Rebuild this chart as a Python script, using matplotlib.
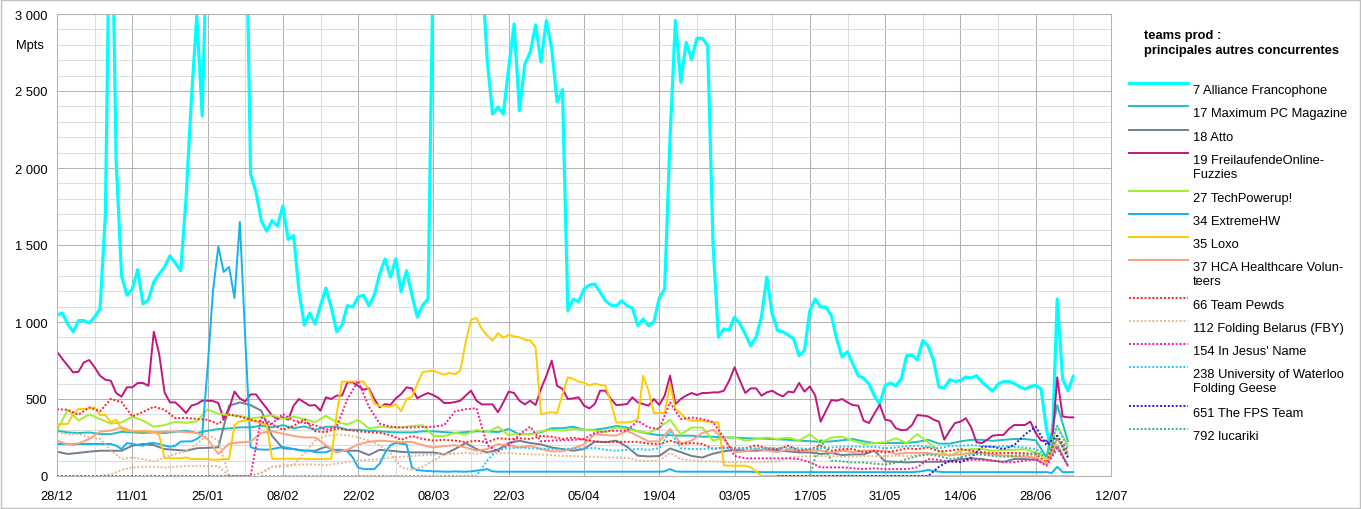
import numpy as np
import pandas as pd
import matplotlib
matplotlib.use("Agg")
import matplotlib.pyplot as plt
from matplotlib.lines import Line2D
from matplotlib.patches import Rectangle
from matplotlib.ticker import FixedLocator, FuncFormatter, MultipleLocator
import matplotlib.dates as mdates

plt.rcParams['font.family'] = ['Liberation Sans', 'DejaVu Sans']
plt.rcParams['font.size'] = 9.3

# daily points, 28/12 -> 05/07
days = pd.date_range('2020-12-28', periods=190, freq='D')
# every second day (0, 2, ..., 188)
days2 = days[::2]
nan = np.nan

# --- daily series ---
alliance = [1045, 1058, 987, 937, 1009, 1009, 994, 1032, 1085, 1700,
            4200, 2050, 1300, 1175, 1214, 1340, 1117, 1145, 1260, 1312,
            1357, 1429, 1383, 1333, 1800, 2450, 2990, 2340, 3660, 4300,
            4800, 5200, 4900, 4500, 4200, 4040, 1960, 1844, 1658, 1590,
            1658, 1623, 1753, 1535, 1561, 1200, 980, 1058, 987, 1106,
            1220, 1097, 937, 981, 1106, 1097, 1162, 1175, 1106, 1175,
            1312, 1409, 1292, 1409, 1197, 1333, 1175, 1032, 1110, 1149,
            3460, 4200, 4800, 5300, 5600, 5200, 4700, 4300, 3900, 3300,
            2700, 2350, 2396, 2351, 2650, 2935, 2372, 2675, 2752, 2929,
            2688, 2957, 2773, 2429, 2509, 1074, 1149, 1132, 1214, 1240,
            1247, 1194, 1138, 1110, 1104, 1138, 1106, 1091, 976, 1020,
            976, 1002, 1156, 1214, 2200, 2957, 2557, 2815, 2705, 2842,
            2842, 2795, 1500, 903, 955, 948, 1032, 987, 922, 846,
            903, 1032, 1292, 1052, 944, 937, 916, 890, 781, 814,
            1074, 1149, 1097, 1097, 1041, 890, 773, 807, 727, 651,
            636, 597, 521, 467, 586, 604, 586, 630, 781, 786,
            755, 879, 846, 749, 580, 571, 625, 615, 619, 643,
            636, 651, 610, 580, 552, 597, 613, 615, 601, 580,
            565, 580, 589, 565, 305, 143, 1149, 630, 554, 649]

freilaufende = [807, 760, 716, 673, 677, 738, 753, 706, 651, 625,
                619, 539, 515, 576, 576, 604, 604, 586, 937, 792,
                543, 478, 478, 446, 409, 457, 467, 489, 489, 487,
                474, 370, 435, 548, 504, 483, 530, 530, 483, 439,
                392, 370, 381, 366, 457, 500, 478, 457, 461, 424,
                511, 500, 522, 522, 608, 608, 585, 560, 570, 500,
                446, 467, 461, 504, 532, 576, 569, 505, 524, 539,
                525, 505, 474, 474, 480, 489, 522, 554, 489, 465,
                465, 465, 414, 478, 548, 539, 489, 465, 489, 461,
                565, 651, 749, 586, 565, 500, 504, 511, 457, 439,
                467, 554, 554, 500, 461, 463, 467, 511, 478, 467,
                457, 500, 461, 522, 651, 467, 500, 522, 539, 526,
                539, 539, 543, 543, 554, 619, 706, 619, 539, 569,
                569, 522, 543, 554, 532, 517, 548, 543, 604, 548,
                582, 522, 353, 424, 493, 489, 500, 478, 460, 457,
                359, 344, 405, 464, 366, 359, 310, 298, 300, 331,
                396, 392, 387, 366, 353, 236, 294, 344, 353, 375,
                316, 219, 214, 236, 262, 266, 266, 305, 331, 331,
                331, 353, 279, 229, 229, 186, 641, 387, 381, 381]

extremehw = ([208, 208, 208, 205, 208, 208, 208, 208, 208, 208,
              208, 197, 175, 214, 208, 202, 197, 212, 214, 208,
              197, 190, 197, 223, 225, 225, 240, 266, 700, 1200,
              1490, 1325, 1357, 1156, 1650, 900, 188, 175, 172, 170,
              175, 182, 188, 182, 175, 168, 165, 165, 154, 154,
              154, 168, 170, 170, 160, 120, 55, 45, 45, 45,
              80, 150, 200, 215, 210, 205, 55, 38, 35, 32,
              30, 30, 28, 28, 30, 28, 28, 30, 35, 38,
              45, 30] + [28] * 31 + [30, 45, 30] + [28] * 14
             + [25] * 30 + [28, 32, 40, 32, 28] + [25] * 20
             + [20, 60, 25, 25, 25])

loxo = ([338, 338, 338, 403, 435, 435, 440, 446, 396, 396,
         348, 366, 305, 294, 290, 290, 290, 290, 285, 265,
         115, 115, 115, 115, 121, 110, 110, 110, 110, 106,
         106, 110, 110, 330, 355, 360, 360, 355, 345, 330,
         112, 112, 112, 112, 112, 112, 112, 110, 110, 110,
         112, 112, 400, 613, 613, 613, 613, 613, 560, 470,
         455, 452, 450, 465, 420, 500, 515, 600, 675, 680,
         684, 670, 658, 670, 660, 684, 870, 1015, 1025, 955,
         912, 879, 927, 898, 916, 907, 900, 885, 879, 836,
         403, 409, 414, 409, 530, 641, 630, 613, 605, 588,
         600, 591, 586, 478, 348, 348, 348, 353, 370, 651,
         554, 409, 409, 409, 597, 435, 407, 370, 359, 359,
         359, 353, 350, 348, 70, 67, 67, 67, 67, 56,
         30] + [0] * 59)

# --- series read every second day ---
maxpc = [294, 283, 279, 283, 272, 272, 287, 283, 279, 283,
         279, 287, 294, 279, 294, 305, 309, 316, 316, 327,
         316, 330, 310, 322, 300, 320, 320, 300, 300, 294,
         290, 285, 283, 283, 290, 290, 285, 280, 285, 290,
         290, 285, 305, 270, 272, 285, 310, 310, 320, 300,
         300, 310, 325, 315, 290, 275, 265, 265, 262, 262,
         255, 255, 250, 250, 245, 244, 242, 238, 235, 229,
         226, 222, 225, 232, 240, 225, 214, 214, 214, 214,
         222, 235, 210, 210, 225, 235, 235, 228, 235, 240,
         240, 232, 121, 461, 225]

atto = [158, 143, 150, 158, 164, 164, 164, 197, 208, 200,
        175, 170, 164, 180, 183, 186, 456, 478, 460, 424,
        260, 180, 175, 164, 164, 190, 164, 164, 164, 136,
        170, 164, 157, 153, 153, 153, 140, 175, 214, 175,
        153, 170, 214, 229, 214, 205, 185, 175, 164, 175,
        223, 220, 229, 190, 132, 127, 130, 179, 155, 130,
        120, 145, 160, 170, 164, 164, 168, 168, 160, 153,
        153, 143, 149, 136, 140, 140, 164, 95, 92, 88,
        92, 92, 92, 95, 110, 115, 110, 99, 92, 110,
        110, 105, 77, 200, 66]

techpowerup = [294, 430, 360, 400, 370, 340, 348, 385, 360, 320,
               330, 352, 345, 355, 432, 405, 395, 390, 375, 382,
               395, 370, 385, 370, 350, 390, 350, 335, 365, 310,
               320, 315, 315, 325, 330, 261, 258, 280, 270, 300,
               285, 320, 265, 275, 270, 290, 300, 295, 305, 300,
               295, 285, 315, 305, 290, 280, 315, 366, 270, 315,
               315, 229, 250, 250, 230, 240, 250, 240, 250, 230,
               270, 218, 250, 255, 230, 208, 214, 220, 245, 214,
               272, 218, 164, 131, 164, 175, 175, 164, 170, 170,
               175, 153, 110, 326, 196]

hca = [229, 205, 212, 240, 288, 295, 316, 290, 290, 285,
       288, 290, 285, 280, 240, 143, 210, 218, 223, 280,
       290, 275, 260, 250, 250, 200, 153, 170, 205, 222,
       229, 225, 220, 222, 200, 185, 195, 200, 185, 164,
       175, 207, 200, 185, 196, 175, 160, 160, 180, 205,
       272, 265, 262, 294, 260, 225, 225, 305, 210, 230,
       280, 300, 240, 155, 160, 175, 165, 155, 175, 165,
       165, 165, 150, 165, 155, 165, 165, 165, 143, 150,
       150, 149, 140, 135, 140, 150, 150, 140, 135, 125,
       125, 120, 77, 240, 140]

pewds = [434, 430, 398, 445, 420, 500, 480, 387, 415, 450,
         430, 375, 378, 370, 365, 337, 400, 385, 365, 352,
         335, 300, 325, 370, 290, 285, 309, 300, 290, 285,
         280, 266, 235, 260, 240, 230, 235, 230, 220, 230,
         220, 245, 240, 245, 240, 260, 255, 240, 250, 235,
         225, 220, 222, 222, 222, 210, 208, 229, 208, 214,
         208, 175, 186, 180, 180, 200, 180, 175, 197, 164,
         175, 197, 164, 175, 175, 153, 164, 153, 164, 180,
         175, 185, 160, 164, 175, 164, 155, 149, 150, 149,
         148, 142, 88, 261, 164]

belarus = [283, 270, 273, 251, 240, 170, 110, 120, 110, 95,
           120, 143, 160, 208, 270, 229, 0, 0, 0, 20,
           60, 60, 70, 150, 230, 260, 270, 265, 250, 230,
           200, 150, 55, 40, 60, 100, 140, 145, 150, 145,
           150, 145, 150, 145, 140, 140, 135, 130, 130, 125,
           125, 120, 120, 118, 100, 98, 100, 150, 110, 100,
           95, 95, 92, 90, 90, 92, 92, 95, 120, 125,
           130, 130, 128, 125, 125, 130, 128, 130, 132, 130,
           135, 140, 145, 140, 150, 145, 140, 135, 130, 140,
           135, 130, 80, 200, 120]

# second tan dotted trace seen low in the plot (no legend entry)
belarus_low = ([0] * 5 + [10, 40, 55, 60, 60, 55, 60, 65, 65, 65, 65]
               + [0, 0, 0]
               + [20, 60, 70, 72, 75, 75, 70, 80, 90, 100,
                  105, 110, 120, 125, 130, 135, 140, 145, 150]
               + [nan] * 57)

jesus = [0] * 19 + [380, 340, 402, 360, 345, 330, 300, 320, 500, 617,
                    450, 340, 320, 315, 315, 318, 320, 330, 420, 434,
                    440, 200, 160, 200, 270, 320, 225, 230, 232, 235,
                    240, 280, 290, 294, 294, 359, 315, 305, 478, 370,
                    380, 370, 350, 250, 130, 115, 115, 115, 115, 115,
                    110, 90, 56, 56, 56, 50, 45, 50, 45, 45,
                    45, 56, 110, 105, 92, 95, 105, 105, 100, 90,
                    90, 100, 110, 66, 180, 66]

waterloo = [nan] * 19 + [0] * 21 + [100, 175, 180, 185, 180, 178, 175, 175, 178, 180,
                                    182, 170, 164, 170, 175, 170, 180, 290, 180, 175,
                                    175, 180, 180, 175, 178, 180, 182, 180, 185, 180,
                                    175, 180, 185, 190, 192, 190, 190, 180, 186, 195,
                                    196, 190, 180, 196, 196, 200, 196, 190, 194, 190,
                                    185, 175, 130, 326, 175]

fps = [nan] * 67 + [0] * 15 + [60, 100, 90, 120, 190, 190, 175, 200, 270, 320,
                               200, 261, 120]

lucariki = [nan] * 70 + [0, 240, 100, 95, 88, 88, 80, 75, 85, 110,
                         130, 140, 130, 110, 120, 140, 140, 130, 125, 130,
                         135, 150, 130, 250, 150]

labels = ["7 Alliance Francophone", "17 Maximum PC Magazine", "18 Atto",
          "19 FreilaufendeOnline-\nFuzzies", "27 TechPowerup!", "34 ExtremeHW",
          "35 Loxo", "37 HCA Healthcare Volun-\nteers", "66 Team Pewds",
          "112 Folding Belarus (FBY)", "154 In Jesus' Name",
          "238 University of Waterloo\nFolding Geese", "651 The FPS Team",
          "792 lucariki"]

dot = (0, (1, 1))
tan = '#e3b98f'
series = [
    (days, alliance, '#00ffff', 2.3, '-'),
    (days2, maxpc, '#1fbfc4', 1.4, '-'),
    (days2, atto, '#6f7f8f', 1.4, '-'),
    (days, freilaufende, '#c2167f', 1.4, '-'),
    (days2, techpowerup, '#a3ef2c', 1.4, '-'),
    (days, extremehw, '#14b2ef', 1.4, '-'),
    (days, loxo, '#ffcc00', 1.4, '-'),
    (days2, hca, '#ffa07a', 1.4, '-'),
    (days2, pewds, '#ff2020', 1.4, dot),
    (days2, belarus, tan, 1.4, dot),
    (days2, jesus, '#ff1493', 1.4, dot),
    (days2, waterloo, '#1ec8ff', 1.4, dot),
    (days2, fps, '#2020e0', 1.4, dot),
    (days2, lucariki, '#3cb371', 1.4, dot),
]

W, H = 1361, 510
fig = plt.figure(figsize=(W / 100, H / 100), dpi=100)
ax = fig.add_axes([57 / W, 1 - 477 / H, (1111 - 57) / W, (477 - 15) / H])

for k, (x, y, c, lw, ls) in enumerate(series):
    ax.plot(x, np.array(y, dtype=float), color=c, lw=lw, ls=ls,
            solid_joinstyle='round', solid_capstyle='round')
    if k == 9:
        ax.plot(days2, np.array(belarus_low, dtype=float), color=tan, lw=lw, ls=ls)

ax.set_ylim(0, 3000)
ax.set_xlim(pd.Timestamp('2020-12-28'), pd.Timestamp('2021-07-12'))

major = pd.date_range('2020-12-28', '2021-07-12', freq='14D')
minor = pd.date_range('2020-12-28', '2021-07-12', freq='7D')
ax.xaxis.set_major_locator(FixedLocator(mdates.date2num(major)))
ax.xaxis.set_minor_locator(FixedLocator(mdates.date2num(minor)))
ax.xaxis.set_major_formatter(mdates.DateFormatter('%d/%m'))
ax.yaxis.set_major_locator(MultipleLocator(500))
ax.yaxis.set_minor_locator(MultipleLocator(100))
ax.yaxis.set_major_formatter(FuncFormatter(lambda v, p: f"{int(v):,}".replace(",", " ")))

ax.grid(which='minor', color='#dddddd', lw=0.75)
ax.grid(which='major', color='#b3b3b3', lw=0.75)
ax.set_axisbelow(True)
for s in ax.spines.values():
    s.set_color('#b3b3b3')
    s.set_linewidth(0.75)
ax.tick_params(which='both', length=0)
ax.tick_params(axis='x', pad=10, labelsize=9.3)
ax.tick_params(axis='y', pad=7, labelsize=9.3)

fig.text(16 / W, 1 - 46 / H, 'Mpts', fontsize=9.3, va='center', ha='left')

# legend, drawn by hand to keep the spacing of the original
fig.text(1144 / W, 1 - 30 / H, "teams prod :\nprincipales autres concurrentes",
         fontsize=9.3, fontweight='bold', va='top', ha='left', linespacing=1.3)
rows = [89, 112, 136, 159, 197, 220, 243, 266, 304, 327, 350, 373, 412, 435]
for (x, y, c, lw, ls), lab, r in zip(series, labels, rows):
    fig.add_artist(Line2D([1129 / W, 1188 / W], [1 - (r - 5) / H] * 2,
                          color=c, lw=lw, ls=ls, transform=fig.transFigure))
    fig.text(1193 / W, 1 - (r - 4) / H, lab, fontsize=9.3, va='top', ha='left')

fig.add_artist(Rectangle((0.0004, 0.001), 0.9992, 0.998, transform=fig.transFigure,
                         fill=False, edgecolor='#c0c0c0', lw=1))

fig.savefig('out.png', dpi=100)
